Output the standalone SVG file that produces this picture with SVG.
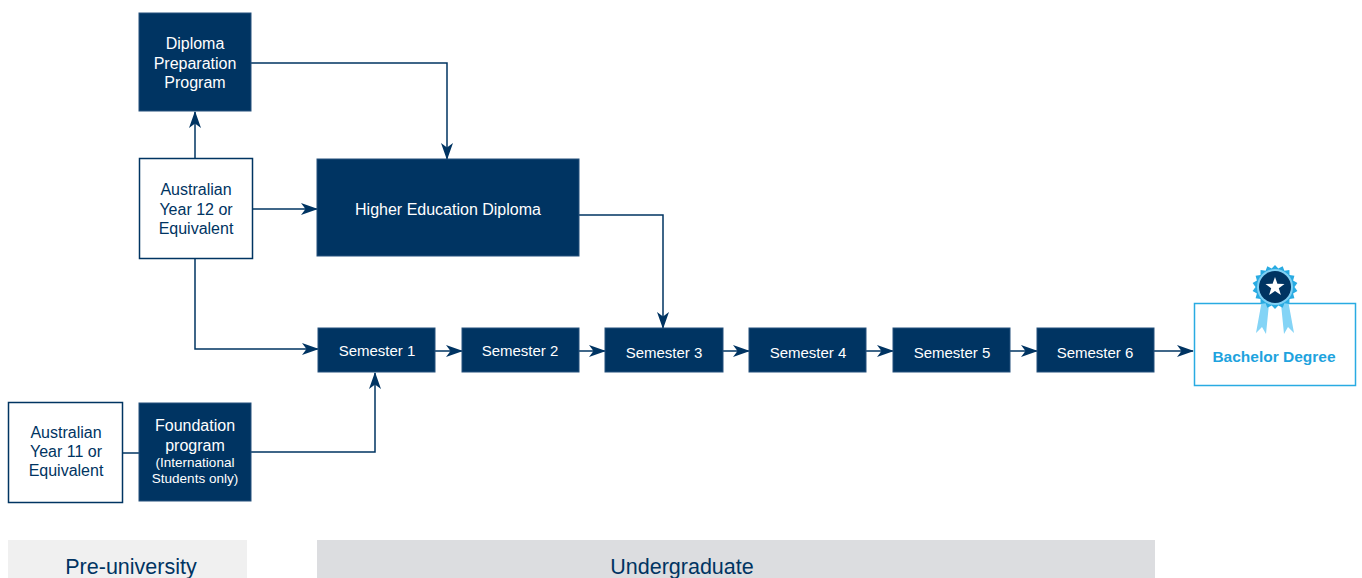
<svg xmlns="http://www.w3.org/2000/svg" width="1362" height="578" viewBox="0 0 1362 578">
<style>
.dark{fill:#003462;stroke:#24507c;stroke-width:1}
.light{fill:#ffffff;stroke:#003462;stroke-width:1.5}
.t{font-family:"Liberation Sans",Arial,sans-serif;font-size:16px;text-anchor:middle}
.s{font-size:15px}
.w{fill:#ffffff}
.n{fill:#003462}
.small{font-size:13.5px}
.conn{fill:none;stroke:#003462;stroke-width:1.5}
.band{font-family:"Liberation Sans",Arial,sans-serif;font-size:21.5px;text-anchor:middle;fill:#003462}
</style>
<defs>
<marker id="ah" markerUnits="userSpaceOnUse" markerWidth="17" markerHeight="12" refX="16" refY="6" orient="auto">
<path d="M0,0 L17,6 L0,12 L4.5,6 z" fill="#003462"/>
</marker>
</defs>
<rect width="1362" height="578" fill="#ffffff"/>

<g id="bands">
<rect x="8" y="540" width="239" height="38" fill="#f0f0f0"/>
<text class="band" x="131" y="574">Pre-university</text>
<rect x="317" y="540" width="838" height="38" fill="#dcdde0"/>
<text class="band" x="682" y="574">Undergraduate</text>
</g>

<g id="connectors">
<path class="conn" d="M195,158 V112" marker-end="url(#ah)"/>
<path class="conn" d="M251,63 H447 V159" marker-end="url(#ah)"/>
<path class="conn" d="M253,209 H317" marker-end="url(#ah)"/>
<path class="conn" d="M579,215 H663 V328" marker-end="url(#ah)"/>
<path class="conn" d="M195,258 V349 H318" marker-end="url(#ah)"/>
<path class="conn" d="M251,452 H375 V373" marker-end="url(#ah)"/>
<path class="conn" d="M123,453 H139"/>
<path class="conn" d="M435,351 H462" marker-end="url(#ah)"/>
<path class="conn" d="M579,351 H605" marker-end="url(#ah)"/>
<path class="conn" d="M723,351 H749" marker-end="url(#ah)"/>
<path class="conn" d="M866,351 H893" marker-end="url(#ah)"/>
<path class="conn" d="M1010,351 H1037" marker-end="url(#ah)"/>
<path class="conn" d="M1154,351 H1193" marker-end="url(#ah)"/>
</g>

<g id="diploma-prep">
<rect class="dark" x="139" y="13" width="112" height="98"/>
<text class="t w" x="195" y="49">Diploma</text>
<text class="t w" x="195" y="69">Preparation</text>
<text class="t w" x="195" y="88">Program</text>
</g>

<g id="year12">
<rect class="light" x="139.5" y="158.5" width="113" height="100"/>
<text class="t n" x="196" y="195">Australian</text>
<text class="t n" x="196" y="215">Year 12 or</text>
<text class="t n" x="196" y="234">Equivalent</text>
</g>

<g id="hed">
<rect class="dark" x="317" y="159" width="262" height="97"/>
<text class="t w" x="448" y="215">Higher Education Diploma</text>
</g>

<g id="year11">
<rect class="light" x="8.5" y="402.5" width="114" height="100"/>
<text class="t n" x="66" y="438">Australian</text>
<text class="t n" x="66" y="457">Year 11 or</text>
<text class="t n" x="66" y="476">Equivalent</text>
</g>

<g id="foundation">
<rect class="dark" x="139" y="403" width="112" height="98"/>
<text class="t w" x="195" y="431">Foundation</text>
<text class="t w" x="195" y="451">program</text>
<text class="t w small" x="195" y="467">(International</text>
<text class="t w small" x="195" y="483">Students only)</text>
</g>

<g id="sem1"><rect class="dark" x="318" y="328" width="117" height="44"/><text class="t s w" x="377" y="356">Semester 1</text></g>
<g id="sem2"><rect class="dark" x="462" y="328" width="117" height="44"/><text class="t s w" x="520" y="356">Semester 2</text></g>
<g id="sem3"><rect class="dark" x="605" y="328" width="118" height="44"/><text class="t s w" x="664" y="358">Semester 3</text></g>
<g id="sem4"><rect class="dark" x="749" y="328" width="117" height="44"/><text class="t s w" x="808" y="358">Semester 4</text></g>
<g id="sem5"><rect class="dark" x="893" y="328" width="117" height="44"/><text class="t s w" x="952" y="358">Semester 5</text></g>
<g id="sem6"><rect class="dark" x="1037" y="328" width="117" height="44"/><text class="t s w" x="1095" y="358">Semester 6</text></g>

<g id="bachelor">
<rect x="1194.5" y="303.5" width="161" height="82" fill="#ffffff" stroke="#29abe2" stroke-width="1.5"/>
<text x="1274" y="362" font-family="'Liberation Sans',Arial,sans-serif" font-size="15.5" font-weight="bold" fill="#1ea3de" text-anchor="middle">Bachelor Degree</text>
<g id="medal">
<polygon points="1262,300 1269,304 1266,334 1262,327 1256,333" fill="#84d4f6"/>
<polygon points="1288,300 1281,304 1284,334 1288,327 1294,333" fill="#84d4f6"/>
<polygon fill="#29abe2" points="1275.0,265.0 1278.3,268.6 1282.7,266.2 1284.4,270.8 1289.4,270.1 1289.5,275.0 1294.4,275.7 1293.1,280.4 1297.4,282.9 1294.5,286.9 1297.4,291.1 1293.1,293.6 1294.4,298.3 1289.5,299.0 1289.4,303.9 1284.4,303.2 1282.7,307.8 1278.3,305.4 1275.0,309.0 1271.7,305.4 1267.3,307.8 1265.6,303.2 1260.6,303.9 1260.5,299.0 1255.6,298.3 1256.9,293.6 1252.6,291.1 1255.5,286.9 1252.6,282.9 1256.9,280.4 1255.6,275.7 1260.5,275.0 1260.6,270.1 1265.6,270.8 1267.3,266.2 1271.7,268.6"/>
<circle cx="1275" cy="287" r="18" fill="#7fd0f4"/>
<circle cx="1275" cy="287" r="16" fill="#003462"/>
<polygon fill="#ffffff" points="1275,277 1277.4,283.7 1284.5,283.9 1278.8,288.3 1280.9,295.1 1275,291.1 1269.1,295.1 1271.2,288.3 1265.5,283.9 1272.6,283.7"/>
</g>
</g>
</svg>
